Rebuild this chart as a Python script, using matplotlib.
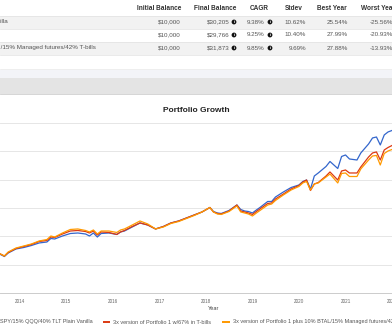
import matplotlib
matplotlib.use("Agg")
import matplotlib.pyplot as plt
import matplotlib.dates as mdates
from matplotlib.patches import Rectangle, Circle
import pandas as pd

plt.rcParams['font.family'] = ['Liberation Sans', 'DejaVu Sans']

# ---- data (portfolio value in $) ----
months = ["2013-07", "2013-08", "2013-09", "2013-10", "2013-12", "2014-02", "2014-04", "2014-06",
          "2014-08", "2014-09", "2014-10", "2014-12", "2015-02", "2015-04", "2015-06", "2015-07",
          "2015-08", "2015-09", "2015-10", "2015-12", "2016-02", "2016-03", "2016-04", "2016-06",
          "2016-08", "2016-10", "2016-12", "2017-02", "2017-04", "2017-06", "2017-08", "2017-10",
          "2017-12", "2018-02", "2018-03", "2018-04", "2018-05", "2018-07", "2018-09", "2018-10",
          "2018-11", "2018-12", "2019-01", "2019-02", "2019-03", "2019-05", "2019-06", "2019-07",
          "2019-09", "2019-11", "2020-01", "2020-02", "2020-03", "2020-04", "2020-05", "2020-06",
          "2020-08", "2020-09", "2020-11", "2020-12", "2021-01", "2021-02", "2021-04", "2021-05",
          "2021-07", "2021-08", "2021-09", "2021-10", "2021-11", "2021-12", "2022-01"]

plain_vanilla = [12060, 11800, 11440, 12060, 12770, 13030, 13380, 13830, 14000, 14620, 14530, 15060,
                 15500, 15590, 15410, 15060, 15590, 14880, 15500, 15590, 15330, 15770, 15940, 16650,
                 17360, 17000, 16300, 16740, 17360, 17710, 18240, 18770, 19300, 20090, 19380, 19120,
                 19030, 19560, 20530, 19740, 19470, 19380, 19120, 19650, 20090, 21150, 21150, 21940,
                 22830, 23620, 24060, 24680, 24940, 23360, 25650, 26180, 27330, 28210, 26970, 29090,
                 29360, 28650, 28470, 29710, 31300, 32360, 32530, 31120, 32890, 33420, 33680]

tbills_67 = [12150, 11880, 11530, 12150, 12850, 13210, 13560, 14090, 14270, 14880, 14800, 15410,
             15940, 16030, 15850, 15590, 15940, 15240, 15770, 15680, 15330, 15770, 16030, 16740,
             17360, 17000, 16300, 16740, 17360, 17710, 18240, 18770, 19300, 20090, 19300, 19030,
             18940, 19470, 20530, 19470, 19300, 19120, 18860, 19380, 19830, 20800, 20890, 21590,
             22470, 23360, 23970, 24590, 24940, 23090, 24240, 24500, 25650, 26360, 24940, 26530,
             26710, 26180, 26180, 27240, 29000, 29710, 29890, 28470, 30240, 30680, 31030]

btal_mf = [12150, 11880, 11530, 12240, 12940, 13300, 13650, 14180, 14440, 15060, 14880, 15590,
           16210, 16300, 16030, 15770, 16120, 15410, 15940, 15940, 15680, 16120, 16300, 17000,
           17710, 17180, 16300, 16650, 17270, 17620, 18150, 18680, 19300, 20090, 19300, 18940,
           18860, 19380, 20360, 19300, 19120, 18940, 18590, 19120, 19560, 20530, 20710, 21330,
           22300, 23180, 23800, 24420, 24680, 23180, 24240, 24420, 25470, 26000, 24420, 26090,
           26180, 25560, 25560, 26890, 28470, 29180, 29270, 27590, 29620, 30060, 30330]

series_names = ["SPY/15% QQQ/40% TLT Plain Vanilla",
                "3x version of Portfolio 1 w/67% in T-bills",
                "3x version of Portfolio 1 plus 10% BTAL/15% Managed futures/42% T-bills"]
colors = ["#3366cc", "#dc3912", "#ff9900"]

# summary table
headers = ["Initial Balance", "Final Balance", "CAGR", "Stdev", "Best Year", "Worst Year"]
initial = ["$10,000", "$10,000", "$10,000"]
final = ["$30,205", "$29,766", "$31,873"]
cagr = ["9.38%", "9.25%", "9.85%"]
stdev = ["10.62%", "10.40%", "9.69%"]
best = ["25.54%", "27.99%", "27.88%"]
worst = ["-25.56%", "-20.93%", "-13.93%"]

years = list(range(2014, 2023))

# ---- figure ----
W, H = 392, 327
fig = plt.figure(figsize=(W / 100, H / 100), dpi=100)

# page overlay in pixel coordinates
page = fig.add_axes([0, 0, 1, 1])
page.set_xlim(0, W)
page.set_ylim(H, 0)
page.axis("off")

# table
row_y = [22, 35, 48]
page.add_patch(Rectangle((0, 15.5), W, 13.5, color="#f2f2f2", lw=0))
page.add_patch(Rectangle((0, 41.5), W, 13.5, color="#f2f2f2", lw=0))
for yl in [15.5, 29, 41.5, 55]:
    page.plot([0, W], [yl, yl], color="#e2e2e2", lw=0.5)

head_right = [181, 236, 269, 303, 347, 395]
for hx, txt in zip(head_right, headers):
    page.text(hx, 8, txt, ha="right", va="center", fontsize=4.7,
              fontweight="bold", color="#333333")

# only the tails of rows 1 and 3 names are visible in the crop
page.text(7.5, row_y[0], series_names[0], ha="right", va="center", fontsize=4.5, color="#555555")
page.text(96, row_y[2], series_names[2], ha="right", va="center", fontsize=4.5, color="#555555")

for i in range(3):
    y = row_y[i]
    page.text(181, y, initial[i], ha="right", va="center", fontsize=4.5, color="#555555")
    page.text(230, y, final[i], ha="right", va="center", fontsize=4.5, color="#555555")
    page.text(265, y, cagr[i], ha="right", va="center", fontsize=4.5, color="#555555")
    page.text(306, y, stdev[i], ha="right", va="center", fontsize=4.5, color="#555555")
    page.text(348, y, best[i], ha="right", va="center", fontsize=4.5, color="#555555")
    page.text(393, y, worst[i], ha="right", va="center", fontsize=4.5, color="#555555")
    for cx in [234, 270]:
        page.add_patch(Circle((cx, y), 2.4, color="#111111", lw=0))
        page.text(cx, y + 0.2, "i", ha="center", va="center", fontsize=3.2,
                  fontweight="bold", color="white")

# panel heading bands
page.plot([0, W], [68.5, 68.5], color="#e8e8e8", lw=0.5)
page.add_patch(Rectangle((0, 70), W, 7.5, color="#f3f4f8", lw=0))
page.add_patch(Rectangle((0, 77.5), W, 16.5, color="#e4e4e4", lw=0))
page.plot([0, W], [94, 94], color="#cfcfcf", lw=0.6)

# title / axis label
page.text(196, 110, "Portfolio Growth", ha="center", va="center", fontsize=6,
          fontweight="bold", color="#222222")
page.text(214, 308, "Year", ha="center", va="center", fontsize=4.1, color="#444444")

# legend
page.text(93, 322, series_names[0], ha="right", va="center", fontsize=4.0, color="#555555")
page.plot([103, 110], [322, 322], color=colors[1], lw=1.4, solid_capstyle="butt")
page.text(113, 322, series_names[1], ha="left", va="center", fontsize=4.0, color="#555555")
page.plot([222, 230], [322, 322], color=colors[2], lw=1.4, solid_capstyle="butt")
page.text(233, 322, series_names[2], ha="left", va="center", fontsize=4.0, color="#555555")

# ---- chart ----
ax = fig.add_axes([0, 34 / H, 1, 170 / H])
dates = pd.to_datetime(months)
ax.plot(dates, plain_vanilla, color=colors[0], lw=0.9)
ax.plot(dates, tbills_67, color=colors[1], lw=0.9)
ax.plot(dates, btal_mf, color=colors[2], lw=0.9)

px_per_year = 46.7
t0 = pd.Timestamp("2014-01-01")
left = t0 + pd.Timedelta(days=(0 - 20) / px_per_year * 365.25)
right = t0 + pd.Timedelta(days=(W - 20) / px_per_year * 365.25)
ax.set_xlim(left, right)
ax.set_ylim(5000, 35000)

ax.set_yticks(range(10000, 35001, 5000))
ax.set_yticklabels([])
ax.set_xticks(pd.to_datetime([f"{y}-01-01" for y in years]))
ax.xaxis.set_major_formatter(mdates.DateFormatter("%Y"))
ax.tick_params(axis="both", length=0)
ax.tick_params(axis="x", labelsize=3.3, labelcolor="#666666", pad=4)
ax.grid(axis="y", color="#e6e6e6", lw=0.7)
ax.set_axisbelow(True)
for s in ["top", "left", "right"]:
    ax.spines[s].set_visible(False)
ax.spines["bottom"].set_color("#cccccc")
ax.spines["bottom"].set_linewidth(0.7)
ax.patch.set_alpha(0)

fig.savefig("out.png", dpi=100)
